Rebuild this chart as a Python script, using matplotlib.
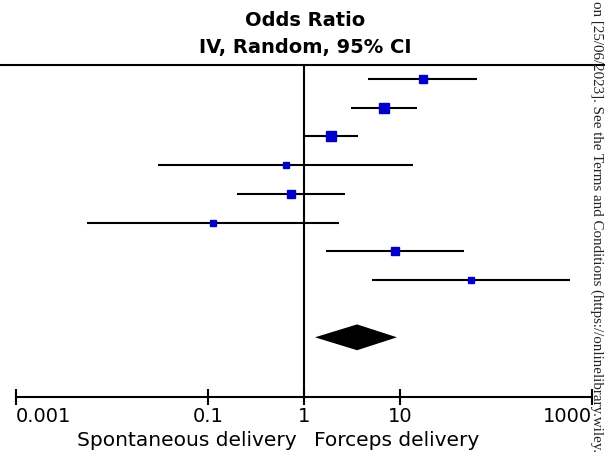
import numpy as np
import matplotlib
matplotlib.use("Agg")
import matplotlib.pyplot as plt
from matplotlib.lines import Line2D

# ── Study estimates (odds ratio with 95% CI) ─────────────────────────────────
or_est = [17.4, 6.8, 1.9, 0.65, 0.73, 0.113, 8.9, 55.0]
ci_low = [4.6, 3.1, 1.02, 0.030, 0.20, 0.0055, 1.70, 5.1]
ci_high = [63.0, 15.0, 3.65, 13.7, 2.67, 2.31, 46.0, 590.0]
weights = [15.1, 19.1, 19.1, 5.9, 15.1, 5.9, 11.5, 8.5]   # % weight

# pooled random-effects estimate
pooled_or = 3.57
pooled_low = 1.30
pooled_high = 9.3

tick_vals = [0.001, 0.1, 1, 10, 1000]
tick_text = ["0.001", "0.1", "1", "10", "1000"]

W, H = 605, 461
fig = plt.figure(figsize=(W / 100, H / 100), dpi=100)

# axes box in pixel units -> figure fractions
x0, x1 = 16, 592
y_top, y_bot = 65, 397
ax = fig.add_axes([x0 / W, 1 - y_bot / H, (x1 - x0) / W, (y_bot - y_top) / H])
ax.set_xscale("log")
ax.set_xlim(0.001, 1000)
ax.set_ylim(11.08, -0.49)

rows = np.arange(len(or_est))
for r, est, lo, hi, w in zip(rows, or_est, ci_low, ci_high, weights):
    ax.plot([lo, hi], [r, r], color="black", lw=1.5, solid_capstyle="butt", zorder=2)
    ax.plot(est, r, marker="s", ms=1.55 * np.sqrt(w), color="#0000c8",
            mec="#0000c8", zorder=3)

# pooled diamond
d_row = 9
ax.fill([pooled_low, pooled_or, pooled_high, pooled_or],
        [d_row, d_row - 0.45, d_row, d_row + 0.45], color="black", lw=0, zorder=3)

# line of no effect
ax.axvline(1, color="black", lw=1.5, zorder=1)

for side in ("left", "right", "top"):
    ax.spines[side].set_visible(False)
ax.spines["bottom"].set_linewidth(1.5)
ax.set_yticks([])
ax.minorticks_off()
ax.set_xticks(tick_vals)
ax.set_xticklabels(tick_text, fontsize=14)
ax.tick_params(axis="x", direction="inout", length=11, width=1.5, pad=2)
labels = ax.get_xticklabels()
labels[0].set_ha("left")
labels[-1].set_ha("right")

# top rule across the whole figure
fig.add_artist(Line2D([0, 1], [1 - y_top / H] * 2, color="black", lw=1.5,
                      transform=fig.transFigure))

fig.text(305 / W, 1 - 21 / H, "Odds Ratio", ha="center", va="center",
         fontsize=14, fontweight="bold")
fig.text(305 / W, 1 - 48 / H, "IV, Random, 95% CI", ha="center", va="center",
         fontsize=14, fontweight="bold")

fig.text(297 / W, 1 - 440 / H, "Spontaneous delivery", ha="right", va="center",
         fontsize=14.5)
fig.text(314 / W, 1 - 440 / H, "Forceps delivery", ha="left", va="center",
         fontsize=14.5)

fig.text(597 / W, 0.998, "on [25/06/2023]. See the Terms and Conditions "
         "(https://onlinelibrary.wiley.",
         rotation=-90, ha="center", va="top", fontsize=10.8,
         family="Liberation Serif", color="#222222")

fig.savefig("out.png", dpi=100)
